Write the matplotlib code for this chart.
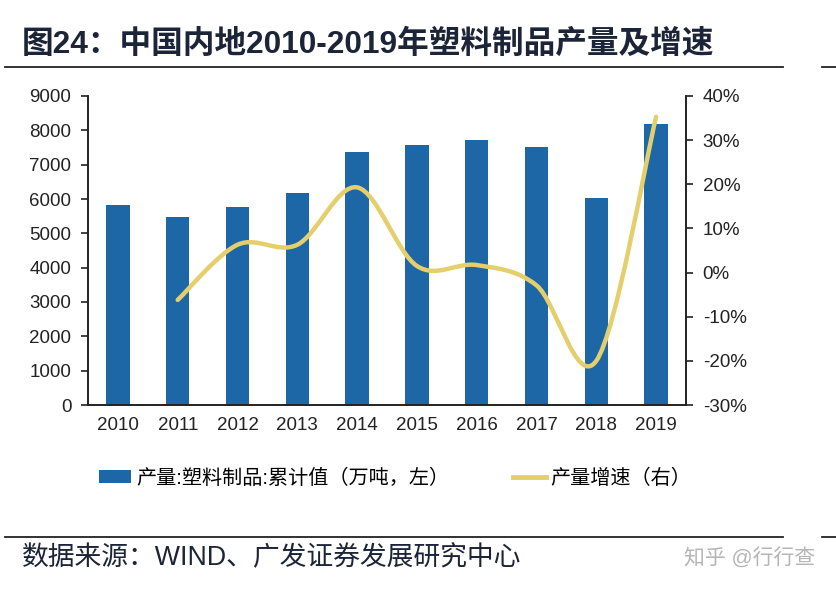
import numpy as np
import matplotlib
matplotlib.use('Agg')
from matplotlib import pyplot as plt
from matplotlib.path import Path
from matplotlib.patches import PathPatch, Patch
from matplotlib.lines import Line2D
from matplotlib.ticker import FuncFormatter

plt.rcParams['font.family'] = ['Liberation Sans', 'Noto Sans CJK SC', 'DejaVu Sans']

years = ['2010', '2011', '2012', '2013', '2014', '2015', '2016', '2017', '2018', '2019']
output = [5830, 5474, 5781, 6168, 7378, 7561, 7718, 7516, 6042, 8184]  # 万吨
growth_years = [1, 2, 3, 4, 5, 6, 7, 8, 9]
growth = [-6.2, 6.3, 6.3, 19.3, 1.5, 1.7, -2.9, -20.0, 35.3]  # %

blue = '#1D67A6'
gold = '#E5CE6C'
navy = '#1C2437'

fig = plt.figure(figsize=(8.36, 5.92), dpi=100)
ax = fig.add_axes([88/836, 1-405/592, (686-88)/836, (405-96)/592])
ax2 = ax.twinx()

x = np.arange(len(years))
ax.bar(x, output, width=0.39, color=blue, zorder=2)
ax.set_xlim(-0.5, len(years)-0.5)
ax.set_ylim(0, 9000)
ax.set_yticks(range(0, 9001, 1000))
ax.set_xticks(x)
ax.set_xticklabels(years)

# smooth line like excel: cubic bezier through the points
px = np.array(growth_years, dtype=float)
py = np.array(growth, dtype=float)
verts = [(px[0], py[0])]
codes = [Path.MOVETO]
n = len(px)
for i in range(n-1):
    p0 = np.array([px[max(i-1, 0)], py[max(i-1, 0)]])
    p1 = np.array([px[i], py[i]])
    p2 = np.array([px[i+1], py[i+1]])
    p3 = np.array([px[min(i+2, n-1)], py[min(i+2, n-1)]])
    c1 = p1 + (p2 - p0) / 6
    c2 = p2 - (p3 - p1) / 6
    verts += [tuple(c1), tuple(c2), tuple(p2)]
    codes += [Path.CURVE4] * 3
ax2.add_patch(PathPatch(Path(verts, codes), facecolor='none', edgecolor=gold,
                        lw=3.2, capstyle='round', zorder=3))
ax2.set_ylim(-30, 40)
ax2.set_yticks(range(-30, 41, 10))
ax2.yaxis.set_major_formatter(FuncFormatter(lambda v, p: '%d%%' % v))

for a in (ax, ax2):
    a.spines['top'].set_visible(False)
    for s in ('left', 'right', 'bottom'):
        a.spines[s].set_linewidth(1.2)
        a.spines[s].set_color('#222222')
ax.tick_params(axis='y', labelsize=13.5, length=5, width=1.2, pad=7, colors='#222222')
ax.tick_params(axis='x', labelsize=13.5, length=0, pad=9, colors='#222222')
ax2.tick_params(axis='y', labelsize=13.5, length=5, width=1.2, pad=7, colors='#222222')

# legend
h1 = Patch(facecolor=blue)
h2 = Line2D([0], [0], color=gold, lw=3.5)
fig.legend([h1, h2], ['产量:塑料制品:累计值（万吨，左）', '产量增速（右）'],
           loc='center', bbox_to_anchor=(395/836, 1-478/592), ncol=2, frameon=False,
           fontsize=14.5, handlelength=1.6, handleheight=0.55, columnspacing=3.2,
           handletextpad=0.25)

# title, rules, source
fig.text(22/836, 1-45/592, '图24：中国内地2010-2019年塑料制品产量及增速', fontsize=22.8,
         fontweight='bold', color=navy, va='center', ha='left')
fig.add_artist(plt.Line2D([5/836, 783/836], [1-67/592]*2, color='#222222', lw=1.3))
fig.add_artist(plt.Line2D([822/836, 1], [1-67/592]*2, color='#222222', lw=1.3))
fig.add_artist(plt.Line2D([5/836, 783/836], [1-537/592]*2, color='#222222', lw=1.3))
fig.add_artist(plt.Line2D([822/836, 1], [1-537/592]*2, color='#222222', lw=1.3))
fig.text(22/836, 1-558/592, '数据来源：WIND、广发证券发展研究中心', fontsize=19.3,
         color=navy, va='center', ha='left')
fig.text(815/836, 1-558/592, '知乎 @行行查', fontsize=15, color='#b5b5b5',
         va='center', ha='right')

plt.savefig('out.png', dpi=100)
